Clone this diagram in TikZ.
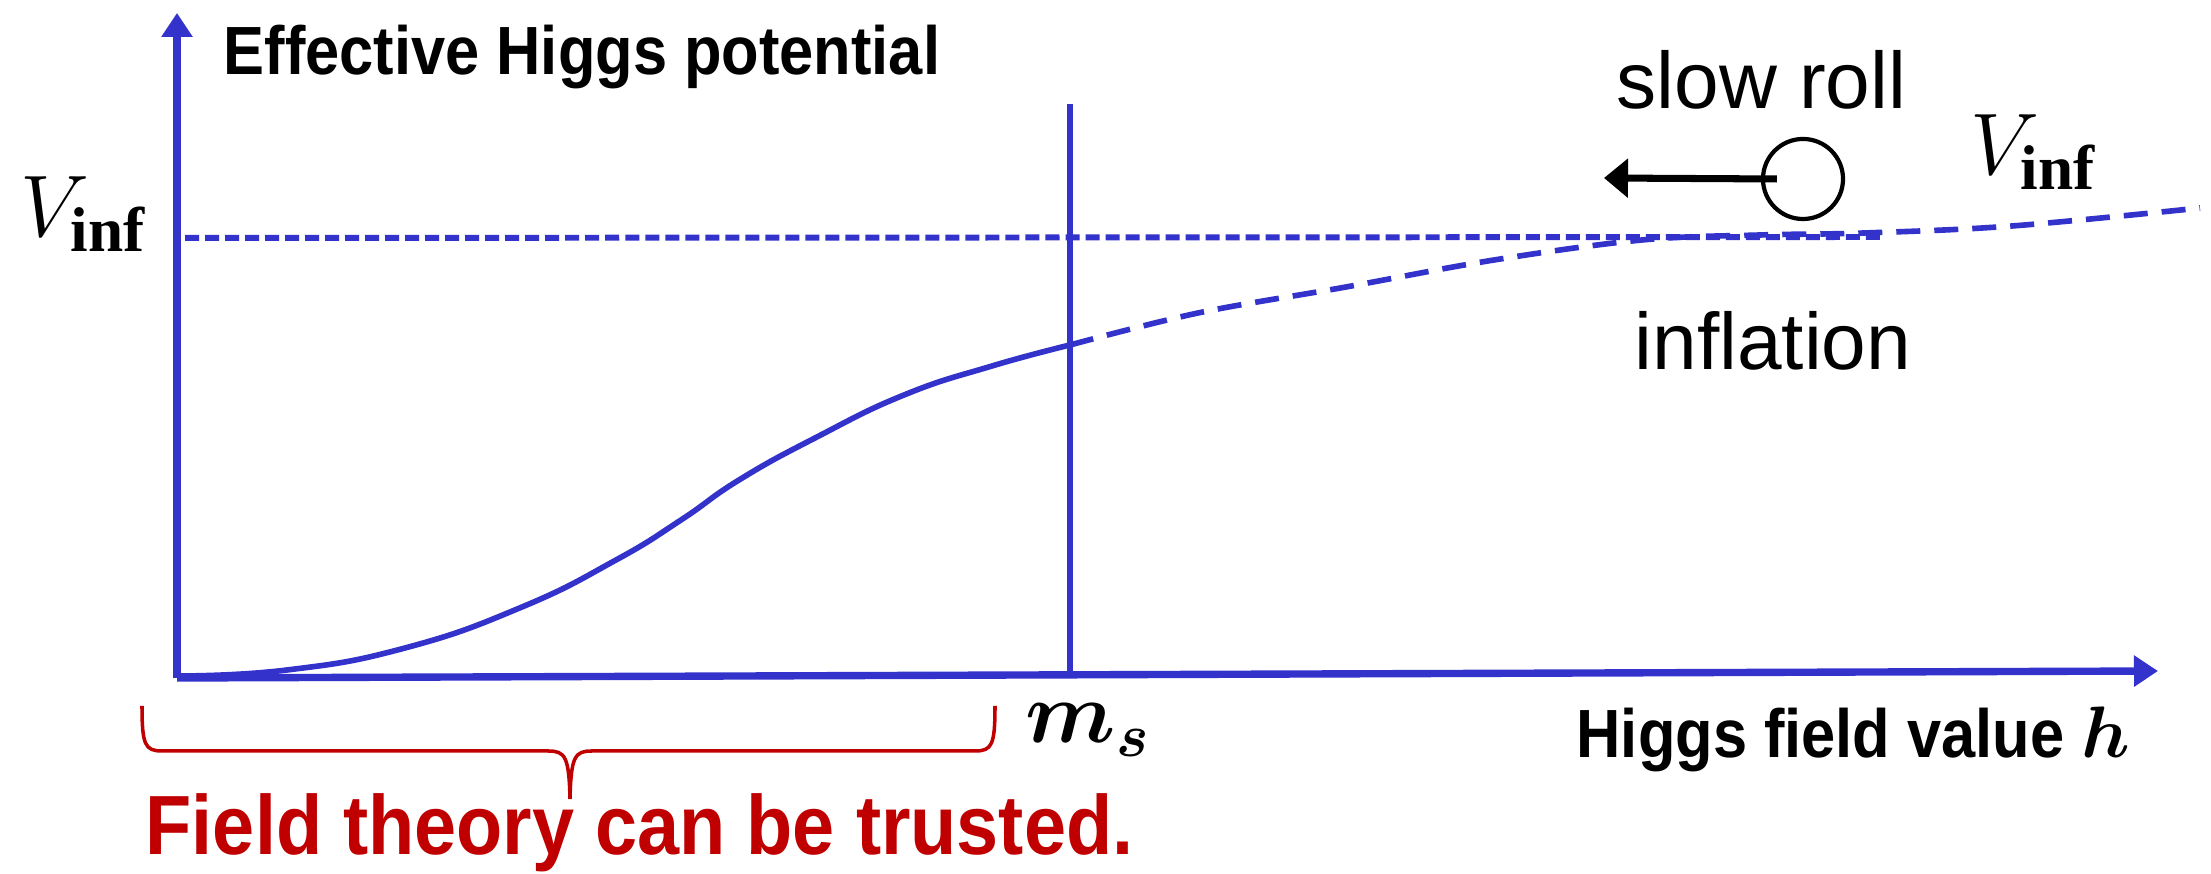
\documentclass[tikz,border=0pt]{standalone}
\usepackage[no-math]{fontspec}
\setmainfont{Liberation Sans}
\newfontfamily\narrowsf[FakeStretch=0.9]{Liberation Sans}
\newfontfamily\subserif{Liberation Serif}
\usepackage{bm}
\usepackage{tikz}
\usetikzlibrary{arrows.meta, positioning}
\definecolor{potblue}{RGB}{51,51,204}
\definecolor{trustred}{RGB}{192,0,0}
\newcommand{\vinf}{$V_{\mbox{\subserif\bfseries\fontsize{18}{20}\selectfont inf}}$}
\tikzstyle{axis} = [draw=potblue, line width=2.1pt, -{Triangle[length=0.24cm,width=0.3cm]}]
\tikzstyle{cutoff} = [draw=potblue, line width=1.9pt]
\tikzstyle{potential} = [draw=potblue, line width=1.6pt]
\tikzstyle{guess} = [potential, dash pattern=on 0.24cm off 0.14cm]
\tikzstyle{level} = [draw=potblue, line width=1.7pt, dash pattern=on 0.14cm off 0.06cm]
\tikzstyle{axislabel} = [inner sep=0, font=\narrowsf\bfseries\fontsize{19.4}{23}\selectfont]
\tikzstyle{note} = [inner sep=0, font=\fontsize{22.8}{27}\selectfont]
\tikzstyle{mathlabel} = [inner sep=0, font=\fontsize{23.4}{28}\selectfont]
\tikzstyle{ball} = [circle, draw=black, line width=1.2pt, minimum size=0.8cm, inner sep=0]
\tikzstyle{rollarrow} = [draw=black, line width=2pt, -{Triangle[length=0.24cm,width=0.38cm]}]
\tikzstyle{brace} = [draw=trustred, line width=1pt]

\begin{document}
\begin{tikzpicture}[x=0.01cm, y=-0.01cm]
\useasboundingbox (0,0) rectangle (2211,874);

% Axes
\coordinate (origin) at (177,678);
\coordinate (vtop) at (177,13);
\coordinate (htip) at (2158,671);
\draw [axis] (origin) -- (vtop);
\draw [axis] (origin) -- (htip);

% Cutoff m_s
\coordinate (msfoot) at (1070,676);
\coordinate (mstop) at (1070,104);
\draw [cutoff] (msfoot) -- (mstop);

% Potential
\draw [potential] plot[smooth, tension=0.8] coordinates {(179,676) (287,670) (405,648) (522,607) (616,560) (681,520) (739,480) (815,438) (904,395) (992,366) (1070,345)};
\draw [guess] plot[smooth, tension=0.6] coordinates {(1070,345) (1198,313) (1346,287) (1494,260) (1642,240) (1760,235) (1864,233) (2012,226) (2200,208)};

% Plateau
\coordinate (lvlstart) at (185,238);
\coordinate (lvlend) at (1880,237);
\draw [level] (lvlstart) -- (lvlend);

% Labels
\node (vlabel) [axislabel, anchor=base west] at (223,75) {Effective Higgs potential};
\node (hlabel) [axislabel, anchor=base east] at (2131,758) {Higgs field value $\bm{h}$};
\node (vinfleft) [mathlabel, anchor=base west] at (20,237) {\vinf};
\node (vinfright) [mathlabel, anchor=base west] at (1970,175) {\vinf};
\node (mslabel) [mathlabel, anchor=base west] at (1025,743) {$\bm{m_s}$};
\node (slowroll) [note, anchor=base west] at (1616,109) {slow roll};
\node (inflation) [note, anchor=base west] at (1634,370) {inflation};

% Ball rolling
\node (ball) [ball] at (1803,179) {};
\coordinate (rollend) at (1604,178);
\draw [rollarrow] ([xshift=0.16cm]ball.west) -- (rollend);

% Trusted range
\draw [brace] (142,706) .. controls (142,745) and (145,751) .. (162,751) -- (548,751) .. controls (565,751) and (569,756) .. (570,799);
\draw [brace] (995,706) .. controls (995,745) and (992,751) .. (975,751) -- (592,751) .. controls (575,751) and (571,756) .. (570,799);
\node (trusted) [inner sep=0, anchor=base west, text=trustred, font=\narrowsf\bfseries\fontsize{23.9}{28}\selectfont] at (145,855) {Field theory can be trusted.};

\end{tikzpicture}
\end{document}
